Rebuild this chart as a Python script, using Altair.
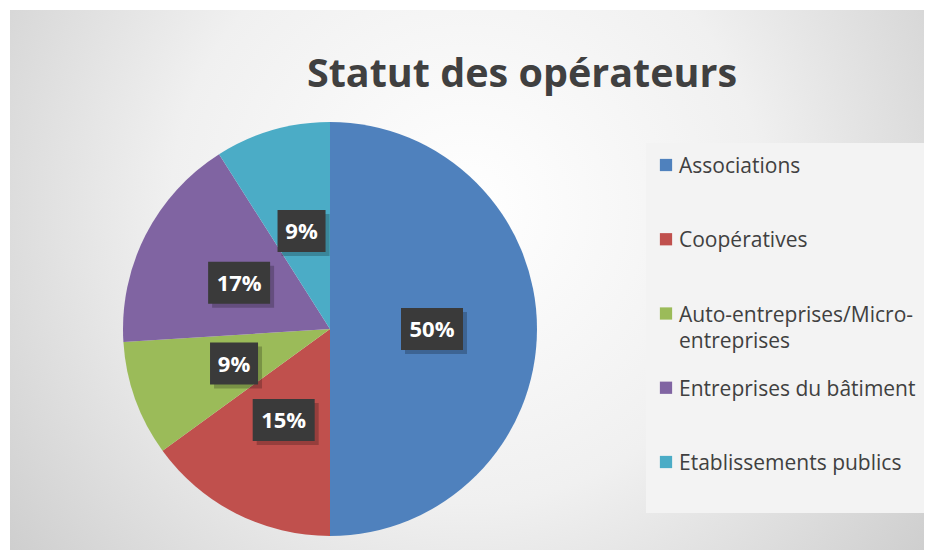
import altair as alt
import pandas as pd

# ---- data ----
categories = ["Associations", "Coopératives", "Auto-entreprises/Micro-entreprises",
              "Entreprises du bâtiment", "Etablissements publics"]
legend_labels = ["Associations", "Coopératives", "Auto-entreprises/Micro-\nentreprises",
                 "Entreprises du bâtiment", "Etablissements publics"]
values = [50, 15, 9, 17, 9]
pct_labels = ["50%", "15%", "9%", "17%", "9%"]
colors = ["#4F81BD", "#C0504D", "#9BBB59", "#8064A2", "#4BACC6"]
title_text = "Statut des opérateurs"

df = pd.DataFrame({"cat": categories, "legend": legend_labels, "value": values,
                   "label": pct_labels, "idx": list(range(len(values)))})

# ---- geometry (view pixels) ----
W, H = 916, 542
CX, CY, R, LR = 322, 321, 207, 102

cscale = alt.Scale(domain=categories, range=colors)
one = alt.Data(values=[{"k": 1}])

bg = alt.Chart(one).mark_rect(
    fill={"gradient": "radial", "x1": 0.5, "y1": 0.42, "r1": 0.0,
          "x2": 0.5, "y2": 0.42, "r2": 0.72,
          "stops": [{"offset": 0.0, "color": "#ffffff"},
                    {"offset": 0.45, "color": "#f0f0f0"},
                    {"offset": 1.0, "color": "#c4c4c4"}]}
).encode(x=alt.value(2), x2=alt.value(W), y=alt.value(2), y2=alt.value(H))

legend_bg = alt.Chart(one).mark_rect(color="#f3f3f3").encode(
    x=alt.value(638), x2=alt.value(W), y=alt.value(135), y2=alt.value(505))

title = alt.Chart(one).mark_text(
    text=title_text, font="Open Sans", fontWeight="bold", fontSize=39.5,
    color="#404040", align="center", baseline="alphabetic"
).encode(x=alt.value(514), y=alt.value(79))

arcs = alt.Chart(df).mark_arc(outerRadius=R).encode(
    theta=alt.Theta("value:Q", stack=True),
    color=alt.Color("cat:N", scale=cscale, legend=None),
    order=alt.Order("idx:Q"),
    x=alt.value(CX), y=alt.value(CY),
)

base = alt.Chart(df).transform_window(
    cum="sum(value)", sort=[alt.SortField("idx")], frame=[None, 0]
).transform_joinaggregate(
    total="sum(value)"
).transform_calculate(
    mid="(datum.cum - datum.value/2) / datum.total * 2 * PI",
).transform_calculate(
    lx=f"{CX} + {LR} * sin(datum.mid)",
    ly=f"{CY} - {LR} * cos(datum.mid)",
    hw="length(datum.label) > 2 ? 31 : 24",
).transform_calculate(
    bx1="datum.lx - datum.hw", bx2="datum.lx + datum.hw",
    by1="datum.ly - 21", by2="datum.ly + 21",
    sx1="datum.lx - datum.hw + 4", sx2="datum.lx + datum.hw + 4",
    sy1="datum.ly - 21 + 4", sy2="datum.ly + 21 + 4",
)

shadow = base.mark_rect(color="#000000", opacity=0.22).encode(
    x=alt.X("sx1:Q", scale=None), x2="sx2:Q",
    y=alt.Y("sy1:Q", scale=None), y2="sy2:Q")

boxes = base.mark_rect(color="#3a3a3a").encode(
    x=alt.X("bx1:Q", scale=None), x2="bx2:Q",
    y=alt.Y("by1:Q", scale=None), y2="by2:Q")

labels = base.mark_text(font="Open Sans", fontWeight="bold", fontSize=22,
                        color="#ffffff", baseline="middle", dy=1).encode(
    x=alt.X("lx:Q", scale=None), y=alt.Y("ly:Q", scale=None), text="label:N")

leg = alt.Chart(df).transform_calculate(gy="157 + datum.idx * 74.25")
leg_sq = leg.mark_square(size=150, opacity=1).encode(
    x=alt.value(658), y=alt.Y("gy:Q", scale=None),
    color=alt.Color("cat:N", scale=cscale, legend=None))
leg_tx = leg.mark_text(align="left", baseline="top", lineBreak="\n", lineHeight=26,
                       font="Open Sans", fontSize=21, color="#404040", dy=-9).encode(
    x=alt.value(671), y=alt.Y("gy:Q", scale=None), text="legend:N")

chart = alt.layer(bg, legend_bg, title, arcs, shadow, boxes, labels, leg_sq, leg_tx).properties(
    width=W, height=H, padding=0,
    autosize=alt.AutoSizeParams(type="none"),
).configure_view(stroke=None)

chart.save("out.html", embed_options={"renderer": "svg", "actions": False})
